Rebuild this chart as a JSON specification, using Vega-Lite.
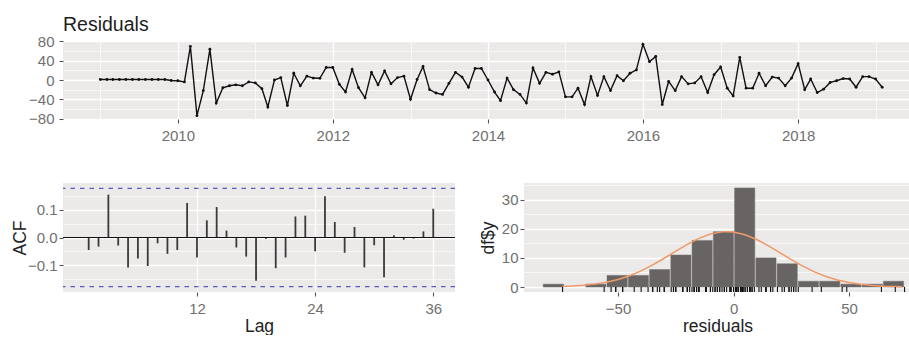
{
  "$schema": "https://vega.github.io/schema/vega-lite/v6.json",
  "padding": {"left": 11, "top": 14, "right": 0, "bottom": 0},
  "background": "#ffffff",
  "config": {
    "font": "Liberation Sans",
    "view": {"fill": "#ECE9E9", "stroke": null},
    "axis": {
      "domain": false,
      "gridColor": "#ffffff",
      "tickColor": "#555555",
      "tickSize": 4,
      "tickWidth": 1.1,
      "labelColor": "#707070",
      "labelFontSize": 15,
      "labelPadding": 4,
      "labelFont": "Liberation Sans",
      "labelOverlap": false,
      "labelFlush": false,
      "labelBound": false,
      "titleFont": "Liberation Sans",
      "titleFontSize": 17.5,
      "titleFontWeight": "normal",
      "titleColor": "#222222"
    },
    "title": {"fontSize": 19.5, "fontWeight": "normal", "anchor": "start", "frame": "group", "color": "#1e1e1e", "font": "Liberation Sans"}
  },
  "datasets": {
    "res": [
      {"date": "2009-01-01", "residual": 1}, {"date": "2009-02-01", "residual": 1}, {"date": "2009-03-01", "residual": 1}, {"date": "2009-04-01", "residual": 1},
      {"date": "2009-05-01", "residual": 1}, {"date": "2009-06-01", "residual": 1}, {"date": "2009-07-01", "residual": 1}, {"date": "2009-08-01", "residual": 1},
      {"date": "2009-09-01", "residual": 1}, {"date": "2009-10-01", "residual": 1}, {"date": "2009-11-01", "residual": 1}, {"date": "2009-12-01", "residual": -1},
      {"date": "2010-01-01", "residual": -1.5}, {"date": "2010-02-01", "residual": -4}, {"date": "2010-03-01", "residual": 70}, {"date": "2010-04-01", "residual": -74},
      {"date": "2010-05-01", "residual": -22}, {"date": "2010-06-01", "residual": 64}, {"date": "2010-07-01", "residual": -48}, {"date": "2010-08-01", "residual": -16},
      {"date": "2010-09-01", "residual": -12}, {"date": "2010-10-01", "residual": -10}, {"date": "2010-11-01", "residual": -12}, {"date": "2010-12-01", "residual": -4},
      {"date": "2011-01-01", "residual": -6}, {"date": "2011-02-01", "residual": -18}, {"date": "2011-03-01", "residual": -56}, {"date": "2011-04-01", "residual": 0},
      {"date": "2011-05-01", "residual": 5}, {"date": "2011-06-01", "residual": -53}, {"date": "2011-07-01", "residual": 14}, {"date": "2011-08-01", "residual": -12},
      {"date": "2011-09-01", "residual": 8}, {"date": "2011-10-01", "residual": 4}, {"date": "2011-11-01", "residual": 3.5}, {"date": "2011-12-01", "residual": 26},
      {"date": "2012-01-01", "residual": 26}, {"date": "2012-02-01", "residual": -9}, {"date": "2012-03-01", "residual": -25}, {"date": "2012-04-01", "residual": 22},
      {"date": "2012-05-01", "residual": -16}, {"date": "2012-06-01", "residual": -37}, {"date": "2012-07-01", "residual": 16}, {"date": "2012-08-01", "residual": -10},
      {"date": "2012-09-01", "residual": 19}, {"date": "2012-10-01", "residual": -8}, {"date": "2012-11-01", "residual": 5}, {"date": "2012-12-01", "residual": 8},
      {"date": "2013-01-01", "residual": -40}, {"date": "2013-02-01", "residual": 1}, {"date": "2013-03-01", "residual": 28}, {"date": "2013-04-01", "residual": -20},
      {"date": "2013-05-01", "residual": -27}, {"date": "2013-06-01", "residual": -30}, {"date": "2013-07-01", "residual": -7}, {"date": "2013-08-01", "residual": 16},
      {"date": "2013-09-01", "residual": 6}, {"date": "2013-10-01", "residual": -15}, {"date": "2013-11-01", "residual": 24}, {"date": "2013-12-01", "residual": 24},
      {"date": "2014-01-01", "residual": 0}, {"date": "2014-02-01", "residual": -25}, {"date": "2014-03-01", "residual": -43}, {"date": "2014-04-01", "residual": 4},
      {"date": "2014-05-01", "residual": -20}, {"date": "2014-06-01", "residual": -30}, {"date": "2014-07-01", "residual": -48}, {"date": "2014-08-01", "residual": 25},
      {"date": "2014-09-01", "residual": -7}, {"date": "2014-10-01", "residual": 16}, {"date": "2014-11-01", "residual": 12}, {"date": "2014-12-01", "residual": 17},
      {"date": "2015-01-01", "residual": -35}, {"date": "2015-02-01", "residual": -35}, {"date": "2015-03-01", "residual": -17}, {"date": "2015-04-01", "residual": -51},
      {"date": "2015-05-01", "residual": 7}, {"date": "2015-06-01", "residual": -32}, {"date": "2015-07-01", "residual": 7}, {"date": "2015-08-01", "residual": -22},
      {"date": "2015-09-01", "residual": 9}, {"date": "2015-10-01", "residual": -1.5}, {"date": "2015-11-01", "residual": 14}, {"date": "2015-12-01", "residual": 21},
      {"date": "2016-01-01", "residual": 74}, {"date": "2016-02-01", "residual": 38}, {"date": "2016-03-01", "residual": 49}, {"date": "2016-04-01", "residual": -51},
      {"date": "2016-05-01", "residual": -3}, {"date": "2016-06-01", "residual": -22}, {"date": "2016-07-01", "residual": 7}, {"date": "2016-08-01", "residual": -8},
      {"date": "2016-09-01", "residual": -6}, {"date": "2016-10-01", "residual": 7}, {"date": "2016-11-01", "residual": -26}, {"date": "2016-12-01", "residual": 11},
      {"date": "2017-01-01", "residual": 27}, {"date": "2017-02-01", "residual": -17}, {"date": "2017-03-01", "residual": -33}, {"date": "2017-04-01", "residual": 47},
      {"date": "2017-05-01", "residual": -17}, {"date": "2017-06-01", "residual": -17}, {"date": "2017-07-01", "residual": 14}, {"date": "2017-08-01", "residual": -12},
      {"date": "2017-09-01", "residual": 6}, {"date": "2017-10-01", "residual": 4}, {"date": "2017-11-01", "residual": -12}, {"date": "2017-12-01", "residual": 4},
      {"date": "2018-01-01", "residual": 34}, {"date": "2018-02-01", "residual": -20}, {"date": "2018-03-01", "residual": 2}, {"date": "2018-04-01", "residual": -26},
      {"date": "2018-05-01", "residual": -19}, {"date": "2018-06-01", "residual": -5}, {"date": "2018-07-01", "residual": -1.5}, {"date": "2018-08-01", "residual": 3},
      {"date": "2018-09-01", "residual": 2}, {"date": "2018-10-01", "residual": -15}, {"date": "2018-11-01", "residual": 7}, {"date": "2018-12-01", "residual": 7},
      {"date": "2019-01-01", "residual": 2}, {"date": "2019-02-01", "residual": -15}
    ],
    "acf": [
      {"lag": 1, "acf": -0.045}, {"lag": 2, "acf": -0.033}, {"lag": 3, "acf": 0.155}, {"lag": 4, "acf": -0.029},
      {"lag": 5, "acf": -0.108}, {"lag": 6, "acf": -0.076}, {"lag": 7, "acf": -0.103}, {"lag": 8, "acf": -0.021},
      {"lag": 9, "acf": -0.059}, {"lag": 10, "acf": -0.045}, {"lag": 11, "acf": 0.125}, {"lag": 12, "acf": -0.072},
      {"lag": 13, "acf": 0.062}, {"lag": 14, "acf": 0.11}, {"lag": 15, "acf": 0.025}, {"lag": 16, "acf": -0.036},
      {"lag": 17, "acf": -0.069}, {"lag": 18, "acf": -0.156}, {"lag": 19, "acf": -0.005}, {"lag": 20, "acf": -0.111},
      {"lag": 21, "acf": -0.072}, {"lag": 22, "acf": 0.076}, {"lag": 23, "acf": 0.079}, {"lag": 24, "acf": -0.05},
      {"lag": 25, "acf": 0.149}, {"lag": 26, "acf": 0.056}, {"lag": 27, "acf": -0.055}, {"lag": 28, "acf": 0.038},
      {"lag": 29, "acf": -0.108}, {"lag": 30, "acf": -0.028}, {"lag": 31, "acf": -0.144}, {"lag": 32, "acf": 0.008},
      {"lag": 33, "acf": -0.008}, {"lag": 34, "acf": -0.004}, {"lag": 35, "acf": 0.022}, {"lag": 36, "acf": 0.104}
    ],
    "acfref": [
      {"level": 0, "kind": "zero"},
      {"level": 0.1775, "kind": "ci"},
      {"level": -0.1775, "kind": "ci"}
    ],
    "hist": [
      {"bin_start": -82.8, "bin_end": -73.6, "count": 1},
      {"bin_start": -64.4, "bin_end": -55.2, "count": 1},
      {"bin_start": -55.2, "bin_end": -46.0, "count": 4},
      {"bin_start": -46.0, "bin_end": -36.8, "count": 4},
      {"bin_start": -36.8, "bin_end": -27.6, "count": 6},
      {"bin_start": -27.6, "bin_end": -18.4, "count": 11},
      {"bin_start": -18.4, "bin_end": -9.2, "count": 16},
      {"bin_start": -9.2, "bin_end": 0, "count": 19},
      {"bin_start": 0, "bin_end": 9.2, "count": 34},
      {"bin_start": 9.2, "bin_end": 18.4, "count": 10},
      {"bin_start": 18.4, "bin_end": 27.6, "count": 8},
      {"bin_start": 27.6, "bin_end": 36.8, "count": 2},
      {"bin_start": 36.8, "bin_end": 46.0, "count": 2},
      {"bin_start": 46.0, "bin_end": 55.2, "count": 1},
      {"bin_start": 55.2, "bin_end": 64.4, "count": 1},
      {"bin_start": 64.4, "bin_end": 73.6, "count": 2}
    ],
    "norm": [
      {"x": -74, "y": 0.21}, {"x": -70, "y": 0.34}, {"x": -65, "y": 0.6}, {"x": -60, "y": 1.03},
      {"x": -55, "y": 1.68}, {"x": -50, "y": 2.62}, {"x": -45, "y": 3.9}, {"x": -40, "y": 5.56},
      {"x": -35, "y": 7.58}, {"x": -30, "y": 9.88}, {"x": -25, "y": 12.3}, {"x": -20, "y": 14.66},
      {"x": -15, "y": 16.7}, {"x": -10, "y": 18.18}, {"x": -5, "y": 18.93}, {"x": -3, "y": 19.0},
      {"x": 0, "y": 18.85}, {"x": 5, "y": 17.94}, {"x": 10, "y": 16.32}, {"x": 15, "y": 14.21},
      {"x": 20, "y": 11.82}, {"x": 25, "y": 9.4}, {"x": 30, "y": 7.15}, {"x": 35, "y": 5.2},
      {"x": 40, "y": 3.61}, {"x": 45, "y": 2.4}, {"x": 50, "y": 1.53}, {"x": 55, "y": 0.93},
      {"x": 60, "y": 0.54}, {"x": 65, "y": 0.3}, {"x": 70, "y": 0.16}, {"x": 73, "y": 0.11}
    ]
  },
  "vconcat": [
    {
      "data": {"name": "res"},
      "width": 847,
      "height": 78,
      "title": {"text": "Residuals", "offset": -1},
      "encoding": {
        "x": {
          "field": "date", "type": "temporal", "title": null,
          "scale": {"domain": [{"year": 2008, "month": 7, "date": 9}, {"year": 2019, "month": 6, "date": 12}]},
          "axis": {
            "values": [{"year": 2009}, {"year": 2010}, {"year": 2011}, {"year": 2012}, {"year": 2013}, {"year": 2014}, {"year": 2015}, {"year": 2016}, {"year": 2017}, {"year": 2018}, {"year": 2019}],
            "format": "%Y",
            "labelExpr": "year(datum.value) % 2 == 0 ? datum.label : ''",
            "gridWidth": {"condition": {"test": "year(datum.value) % 2 == 0", "value": 1.3}, "value": 0.7},
            "tickOpacity": {"condition": {"test": "year(datum.value) % 2 == 0", "value": 1}, "value": 0},
            "minExtent": 24, "maxExtent": 24, "labelPadding": 5
          }
        },
        "y": {
          "field": "residual", "type": "quantitative", "title": null,
          "scale": {"domain": [-81, 81], "nice": false, "zero": false},
          "axis": {
            "values": [-80, -60, -40, -20, 0, 20, 40, 60, 80],
            "labelExpr": "datum.value % 40 == 0 ? datum.label : ''",
            "gridWidth": {"condition": {"test": "datum.value % 40 == 0", "value": 1.3}, "value": 0.7},
            "tickOpacity": {"condition": {"test": "datum.value % 40 == 0", "value": 1}, "value": 0},
            "minExtent": 48, "maxExtent": 48, "labelPadding": 5
          }
        }
      },
      "layer": [
        {"mark": {"type": "line", "color": "#111111", "strokeWidth": 1.4}},
        {"mark": {"type": "point", "filled": true, "color": "#111111", "size": 8, "opacity": 1}}
      ]
    },
    {
      "hconcat": [
        {
          "width": 392,
          "height": 109,
          "resolve": {"axis": {"y": "independent", "x": "independent"}},
          "layer": [
            {
              "data": {"name": "acf"},
              "mark": {"type": "bar", "color": "#3a3a3a", "size": 1.8, "orient": "vertical"},
              "encoding": {
                "x": {
                  "field": "lag", "type": "quantitative", "title": "Lag",
                  "scale": {"domain": [-1.1, 37.7], "nice": false, "zero": false},
                  "axis": {"values": [12, 24, 36], "minExtent": 24, "maxExtent": 24, "labelPadding": 5, "titlePadding": 1, "gridWidth": 1.3}
                },
                "y": {
                  "field": "acf", "type": "quantitative", "title": "ACF",
                  "scale": {"domain": [-0.197, 0.197], "nice": false, "zero": false},
                  "axis": {
                    "values": [-0.15, -0.1, -0.05, 0, 0.05, 0.1, 0.15],
                    "format": ".1f",
                    "labelExpr": "(abs(datum.value) < 0.01 || abs(abs(datum.value) - 0.1) < 0.01) ? datum.label : ''",
                    "gridWidth": {"condition": {"test": "abs(datum.value) < 0.01 || abs(abs(datum.value) - 0.1) < 0.01", "value": 1.3}, "value": 0.7},
                    "tickOpacity": {"condition": {"test": "abs(datum.value) < 0.01 || abs(abs(datum.value) - 0.1) < 0.01", "value": 1}, "value": 0},
                    "minExtent": 33, "maxExtent": 33, "labelPadding": 2, "titlePadding": 0.5
                  }
                }
              }
            },
            {
              "data": {"name": "acfref"},
              "transform": [{"filter": "datum.kind == 'zero'"}],
              "mark": {"type": "rule", "color": "#111111", "strokeWidth": 1.2},
              "encoding": {"y": {"field": "level", "type": "quantitative", "axis": null}}
            },
            {
              "data": {"name": "acfref"},
              "transform": [{"filter": "datum.kind == 'ci'"}],
              "mark": {"type": "rule", "color": "#5858c0", "strokeWidth": 1.4, "strokeDash": [4.5, 5]},
              "encoding": {"y": {"field": "level", "type": "quantitative", "axis": null}}
            }
          ]
        },
        {
          "width": 387,
          "height": 109,
          "resolve": {"scale": {"y": "independent"}, "axis": {"y": "independent", "x": "independent"}},
          "layer": [
            {
              "resolve": {"axis": {"y": "independent", "x": "independent"}},
              "layer": [
                {
                  "data": {"name": "hist"},
                  "mark": {"type": "bar", "color": "#696464", "stroke": "#7a7575", "strokeWidth": 0.5},
                  "encoding": {
                    "x": {
                      "field": "bin_start", "type": "quantitative", "title": "residuals",
                      "bin": {"binned": true, "step": 9.2},
                      "scale": {"domain": [-90.7, 76.8], "nice": false, "zero": false},
                      "axis": {
                        "values": [-75, -50, -25, 0, 25, 50, 75],
                        "labelExpr": "datum.value % 50 == 0 ? datum.label : ''",
                        "gridWidth": {"condition": {"test": "datum.value % 50 == 0", "value": 1.3}, "value": 0.7},
                        "tickOpacity": {"condition": {"test": "datum.value % 50 == 0", "value": 1}, "value": 0},
                        "minExtent": 24, "maxExtent": 24, "labelPadding": 5, "titlePadding": 1
                      }
                    },
                    "x2": {"field": "bin_end"},
                    "y": {
                      "field": "count", "type": "quantitative", "title": "df$y",
                      "scale": {"domain": [-1.7, 35.7], "nice": false, "zero": false},
                      "axis": {
                        "values": [0, 5, 10, 15, 20, 25, 30, 35],
                        "labelExpr": "datum.value % 10 == 0 ? datum.label : ''",
                        "gridWidth": {"condition": {"test": "datum.value % 10 == 0", "value": 1.3}, "value": 0.7},
                        "tickOpacity": {"condition": {"test": "datum.value % 10 == 0", "value": 1}, "value": 0},
                        "minExtent": 26, "maxExtent": 26, "labelPadding": 2, "titlePadding": 1
                      }
                    }
                  }
                },
                {
                  "data": {"name": "norm"},
                  "mark": {"type": "line", "color": "#ee9a68", "strokeWidth": 1.5},
                  "encoding": {
                    "x": {"field": "x", "type": "quantitative", "axis": null},
                    "y": {"field": "y", "type": "quantitative", "axis": null}
                  }
                }
              ]
            },
            {
              "data": {"name": "res"},
              "mark": {"type": "rule", "color": "#111111", "strokeWidth": 1.1},
              "encoding": {
                "x": {"field": "residual", "type": "quantitative", "axis": null},
                "y": {"datum": -1.7, "type": "quantitative", "scale": {"domain": [-1.7, 35.7], "nice": false, "zero": false}, "axis": null},
                "y2": {"datum": 0.05}
              }
            }
          ]
        }
      ],
      "spacing": 23
    }
  ],
  "spacing": 35
}
